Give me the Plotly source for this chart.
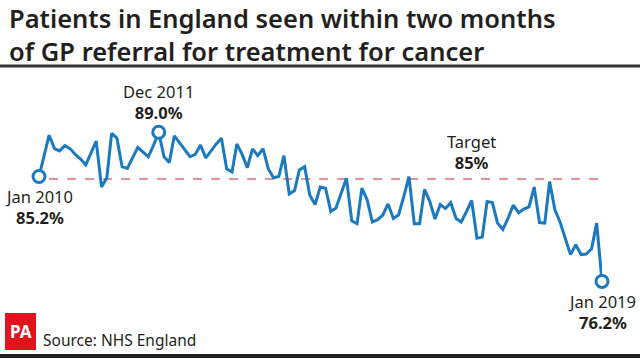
import pandas as pd
import plotly.graph_objects as go

# Monthly % of patients seen within two months of GP referral (Jan 2010 - Jan 2019)
months = pd.date_range("2010-01-01", periods=109, freq="MS")
values = [
    85.2, 87.0, 88.75, 87.6, 87.4, 87.85, 87.6, 87.1, 86.7, 86.2,
    87.2, 88.25, 84.3, 85.1, 88.9, 88.5, 86.05, 85.9, 86.8, 87.7,
    87.3, 86.9, 87.9, 89.0, 86.9, 86.4, 88.7, 88.1, 87.5, 86.9,
    87.1, 87.9, 86.8, 87.4, 88.0, 88.5, 85.85, 85.6, 88.0, 87.1,
    85.97, 87.57, 87.0, 87.6, 85.85, 85.1, 85.2, 87.0, 83.7, 84.0,
    85.77, 86.05, 83.6, 82.8, 84.3, 84.2, 82.2, 82.5, 83.8, 85.05,
    81.4, 81.15, 84.2, 83.2, 81.3, 81.5, 81.9, 82.85, 81.6, 81.9,
    83.5, 85.2, 81.15, 81.15, 84.1, 83.05, 81.55, 82.8, 82.45, 82.95,
    81.6, 81.3, 82.2, 83.15, 79.9, 80.0, 83.05, 82.97, 81.2, 80.65,
    81.6, 82.75, 82.1, 82.4, 82.6, 84.3, 81.25, 81.2, 84.77, 82.35,
    81.3, 79.9, 78.5, 79.35, 78.5, 78.55, 79.0, 81.2, 76.2,
]
target = 85

highlight_idx = [0, 23, 108]
highlight_labels = ["Jan 2010", "Dec 2011", "Jan 2019"]

BLUE = "#1b79c0"
TXT = "#231f20"
FONT = "Noto Sans"

W, H = 640, 358
ML, MR, MT, MB = 39, 38, 109, 51
PW, PH = W - ML - MR, H - MT - MB
YMIN, YMAX = 74, 91


def px(X):
    return (X - ML) / PW


def py(Y):
    return (H - MB - Y) / PH


fig = go.Figure()

fig.add_trace(go.Scatter(
    x=months, y=values, mode="lines",
    line=dict(color=BLUE, width=3), hoverinfo="skip", showlegend=False,
))
fig.add_trace(go.Scatter(
    x=[months[i] for i in highlight_idx], y=[values[i] for i in highlight_idx],
    mode="markers",
    marker=dict(size=12, color="white", line=dict(color=BLUE, width=3)),
    hoverinfo="skip", showlegend=False, cliponaxis=False,
))

# target line
fig.add_shape(type="line", xref="x", yref="y",
              x0=months[2], x1=pd.Timestamp("2019-02-15"), y0=target, y1=target,
              line=dict(color="#e07070", width=1.5, dash="dash"), layer="below")

ann = []


def label(x, Y, top, bottom):
    ann.append(dict(x=x, y=py(Y), xref="x", yref="paper",
                    text=top + "<br><b>" + bottom + "</b>",
                    showarrow=False, align="center",
                    font=dict(family=FONT, size=16.5, color=TXT),
                    xanchor="center", yanchor="middle"))


label(months[0], 206.5, highlight_labels[0], f"{values[0]:.1f}%")
label(months[23], 101.5, highlight_labels[1], f"{values[23]:.1f}%")
label(months[108], 312, highlight_labels[2], f"{values[108]:.1f}%")
label(pd.Timestamp("2016-12-01"), 152, "Target", f"{target}%")

# title
ann.append(dict(x=px(7), y=py(34.5), xref="paper", yref="paper",
                text="Patients in England seen within two months<br>"
                     "of GP referral for treatment for cancer",
                showarrow=False, align="left",
                xanchor="left", yanchor="middle",
                font=dict(family=FONT, size=25.5, color=TXT, weight=600)))
# source
ann.append(dict(x=px(41), y=py(340), xref="paper", yref="paper",
                text="Source: NHS England", showarrow=False,
                xanchor="left", yanchor="middle",
                font=dict(family=FONT, size=15.5, color=TXT)))
ann.append(dict(x=px(20.5), y=py(331), xref="paper", yref="paper",
                text="<b>PA</b>", showarrow=False,
                xanchor="center", yanchor="middle",
                font=dict(family=FONT, size=17, color="white")))

shapes = [
    dict(type="line", xref="paper", yref="paper", x0=px(0), x1=px(W),
         y0=py(66), y1=py(66), line=dict(color="#333333", width=3)),
    dict(type="line", xref="paper", yref="paper", x0=px(0), x1=px(W),
         y0=py(356), y1=py(356), line=dict(color="#222222", width=4)),
    dict(type="rect", xref="paper", yref="paper", x0=px(5), x1=px(36),
         y0=py(350), y1=py(313), fillcolor="#e1141e", line=dict(width=0)),
]
for s in shapes:
    fig.add_shape(**s)

fig.update_layout(
    width=W, height=H,
    margin=dict(l=ML, r=MR, t=MT, b=MB),
    paper_bgcolor="white", plot_bgcolor="white",
    xaxis=dict(visible=False, range=[months[0], months[108]]),
    yaxis=dict(visible=False, range=[YMIN, YMAX]),
    annotations=ann,
    showlegend=False,
)

fig.write_html(
    "out.html",
    config={"displayModeBar": False},
    post_script="document.body.style.margin='0';document.body.style.overflow='hidden';",
)
